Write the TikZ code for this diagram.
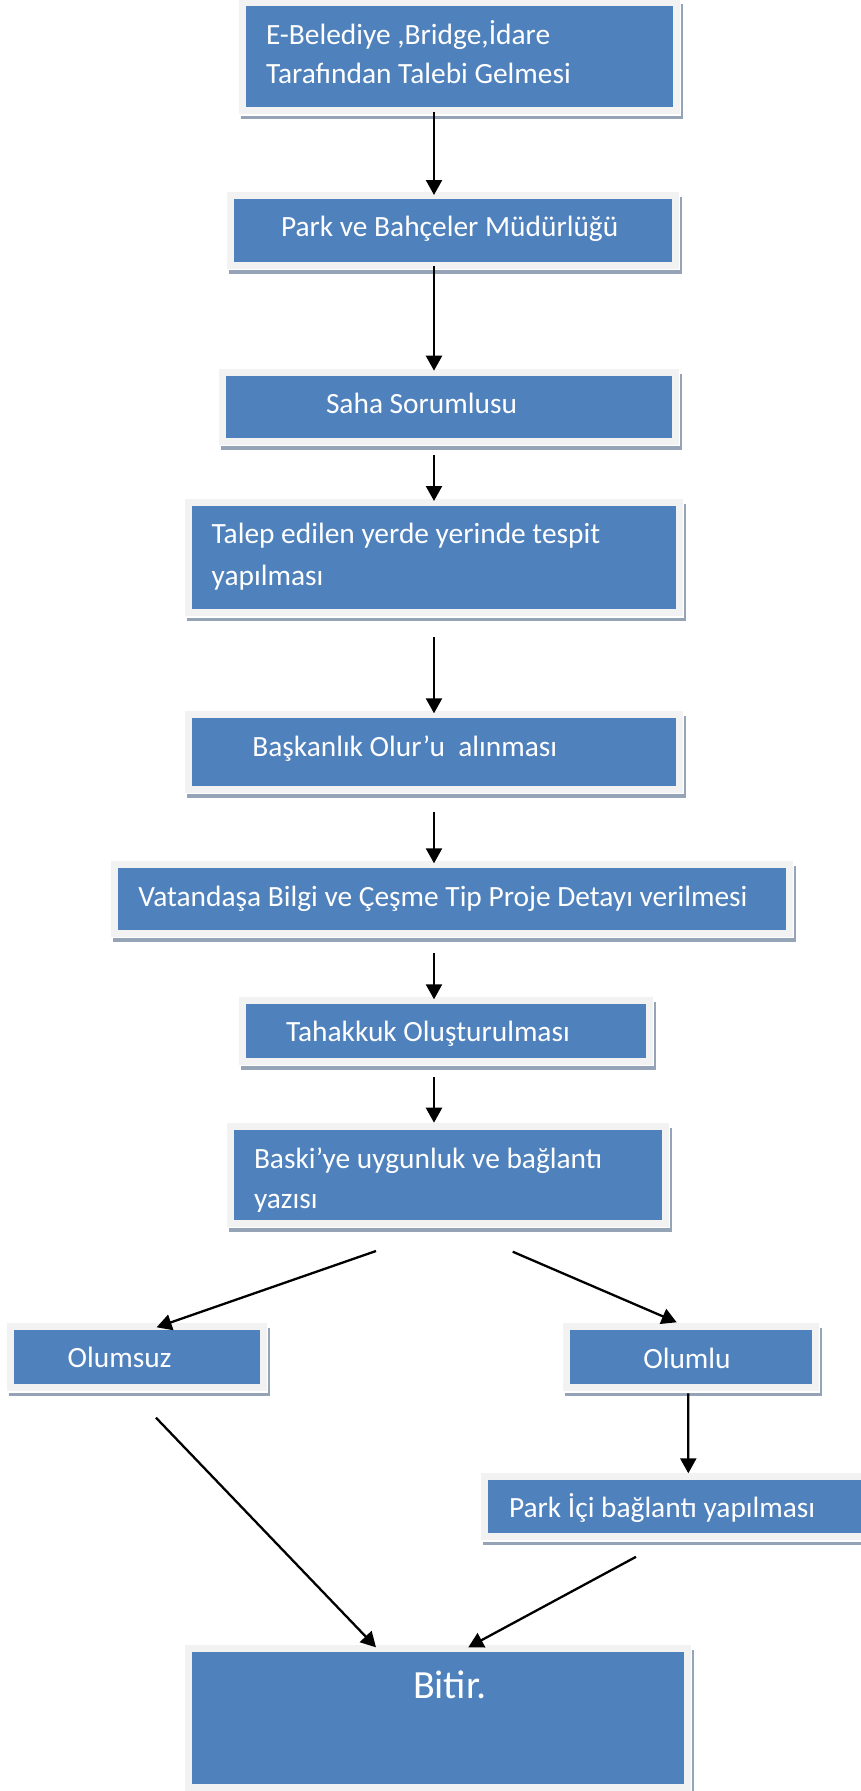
\documentclass[tikz,border=0pt]{standalone}
\usepackage{fontspec}
\setmainfont{Carlito}
\usetikzlibrary{arrows.meta}
\definecolor{boxblue}{HTML}{4F81BD}
\definecolor{boxrim}{HTML}{F2F2F2}
\definecolor{boxshade}{HTML}{95A3B6}
\tikzset{
  bluebox/.style={fill=boxblue, draw=none, inner sep=0pt, outer sep=0pt, rectangle},
  txt/.style={anchor=base west, inner sep=0pt, outer sep=0pt, text=white, font=\fontsize{29.4}{35}\selectfont},
  bigtxt/.style={anchor=base west, inner sep=0pt, outer sep=0pt, text=white, font=\fontsize{40}{46}\selectfont},
  arr/.style={draw=black, line width=2.3pt, -{Triangle[width=16pt,length=15pt]}}
}
\newcommand\flowbox[5]{%
  \fill[boxshade] ({#2-5},{#3-2}) rectangle ({#4+10},{#5+12});
  \fill[white] ({#2-6},{#3-6}) rectangle ({#4+8},{#5+8.5});
  \fill[boxrim] ({#2-7},{#3-7}) rectangle ({#4+7},{#5+7});
  \node[bluebox, minimum width={(#4-#2)*1pt}, minimum height={(#5-#3)*1pt}] (#1) at ({(#2+#4)/2},{(#3+#5)/2}) {};
}
\begin{document}
\begin{tikzpicture}[x=1pt,y=-1pt]
\fill[white] (0,0) rectangle (861,1791);
\clip (0,0) rectangle (861,1791);
% boxes
\flowbox{b1}{246}{6}{673}{107}
\flowbox{b2}{234}{199.3}{672.3}{261.7}
\flowbox{b3}{226}{376}{672.3}{437.7}
\flowbox{b4}{192}{506}{676}{609.3}
\flowbox{b5}{192}{718}{676}{785.7}
\flowbox{b6}{118.3}{868}{786}{929.7}
\flowbox{b7}{246.3}{1004.3}{646}{1057.7}
\flowbox{b8}{234}{1130.3}{662}{1219.7}
\flowbox{neg}{14.3}{1330.3}{260}{1384}
\flowbox{pos}{570.3}{1330}{812.3}{1384.3}
\flowbox{park}{488.3}{1480}{875}{1533.3}
\flowbox{fin}{192.3}{1652.3}{684}{1784}
% texts
\node[txt] (t1a) at (266,44) {E-Belediye ,Bridge,İdare};
\node[txt] (t1b) at (266,83.3) {Tarafından Talebi Gelmesi};
\node[txt] (t2) at (281,236.7) {Park ve Bahçeler Müdürlüğü};
\node[txt] (t3) at (326,413) {Saha Sorumlusu};
\node[txt] (t4a) at (211.7,543) {Talep edilen yerde yerinde tespit};
\node[txt] (t4b) at (211.7,585) {yapılması};
\node[txt] (t5) at (252.3,756) {Başkanlık Olur’u\ \ alınması};
\node[txt] (t6) at (138.3,906) {Vatandaşa Bilgi ve Çeşme Tip Proje Detayı verilmesi};
\node[txt] (t7) at (286,1041.7) {Tahakkuk Oluşturulması};
\node[txt] (t8a) at (254,1168.3) {Baski’ye uygunluk ve bağlantı};
\begin{scope}
\clip (234,1180) rectangle (662,1211);
\node[txt] (t8b) at (254,1208.3) {yazısı};
\end{scope}
\node[txt] (tneg) at (67.7,1367.7) {Olumsuz};
\node[txt] (tpos) at (643.3,1368.3) {Olumlu};
\node[txt] (tpark) at (509,1517.3) {Park İçi bağlantı yapılması};
\node[bigtxt] (tfin) at (413,1698) {Bitir.};
% arrows
\draw[arr] ([xshift=-25.5pt,yshift=-5pt]b1.south) -- ([xshift=-19.15pt,yshift=4.3pt]b2.north);
\draw[arr] ([xshift=-19.15pt,yshift=-4.3pt]b2.south) -- ([xshift=-15.15pt,yshift=5.3pt]b3.north);
\draw[arr] ([xshift=-15.15pt,yshift=-17.3pt]b3.south) -- ([yshift=5pt]b4.north);
\draw[arr] ([yshift=-28pt]b4.south) -- ([yshift=4.7pt]b5.north);
\draw[arr] ([yshift=-26pt]b5.south) -- ([xshift=-18.15pt,yshift=4.7pt]b6.north);
\draw[arr] ([xshift=-18.15pt,yshift=-23.6pt]b6.south) -- ([xshift=-12.15pt,yshift=5pt]b7.north);
\draw[arr] ([xshift=-12.15pt,yshift=-19.6pt]b7.south) -- ([xshift=-14pt,yshift=7.6pt]b8.north);
\draw[arr] ([xshift=-72pt,yshift=-31.3pt]b8.south) -- ([xshift=19.5pt,yshift=3pt]neg.north);
\draw[arr] ([xshift=64.7pt,yshift=-32pt]b8.south) -- ([xshift=-14.6pt,yshift=7.7pt]pos.north);
\draw[arr] ([xshift=-3pt,yshift=-9pt]pos.south) -- ([xshift=6.65pt,yshift=6.7pt]park.north);
\draw[arr] ([xshift=18.85pt,yshift=-33.7pt]neg.south) -- ([xshift=-62.15pt,yshift=5pt]fin.north);
\draw[arr] ([xshift=-45.65pt,yshift=-23.5pt]park.south) -- ([xshift=30.15pt,yshift=5pt]fin.north);
\end{tikzpicture}
\end{document}
